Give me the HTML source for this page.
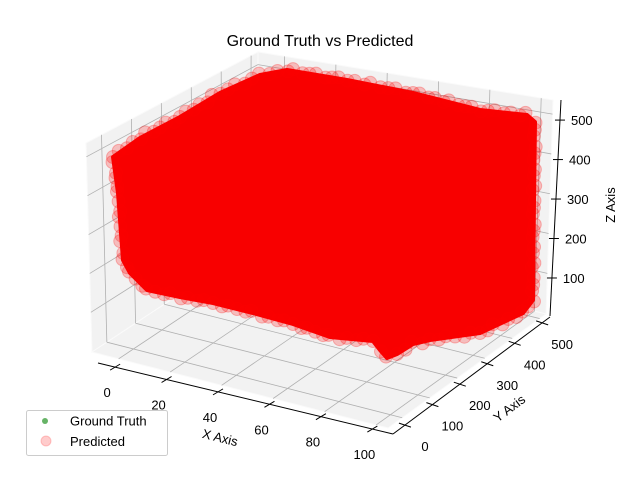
<!DOCTYPE html>
<html><head><meta charset="utf-8"><style>
html,body{margin:0;padding:0;background:#fff}
svg{display:block;font-family:"Liberation Sans","DejaVu Sans",sans-serif}
</style></head><body>
<svg id="chart" width="640" height="480" viewBox="0 0 640 480" xmlns="http://www.w3.org/2000/svg">
<rect width="640" height="480" fill="#fff"/>
<text x="320" y="46" font-size="16" text-anchor="middle" fill="#000">Ground Truth vs Predicted</text>
<g id="panes"></g>
<g id="grid"></g>
<g id="blob"></g>
<g id="axes"></g>
<text x="0" y="0" font-size="13" text-anchor="middle" transform="translate(219,442) rotate(14)">X Axis</text>
<text x="0" y="0" font-size="13" text-anchor="middle" transform="translate(512,412) rotate(-37)">Y Axis</text>
<text x="0" y="0" font-size="13" text-anchor="middle" transform="translate(615,205) rotate(-90)">Z Axis</text>
<g>
<rect x="26.5" y="410.5" width="141" height="45" rx="2" fill="#fff" fill-opacity="0.8" stroke="#ccc"/>
<circle cx="45" cy="421" r="3" fill="green" fill-opacity="0.6"/>
<text x="70" y="425.5" font-size="13">Ground Truth</text>
<circle cx="46" cy="441" r="5" fill="red" fill-opacity="0.2" stroke="red" stroke-opacity="0.2"/>
<text x="70" y="446" font-size="13">Predicted</text>
</g>
</svg>
<script>
const xTicks = [0, 20, 40, 60, 80, 100];
const yTicks = [0, 100, 200, 300, 400, 500];
const zTicks = [100, 200, 300, 400, 500];
const xMax = 100, yMax = 500, zMax = 500;

const NS = "http://www.w3.org/2000/svg";
function mk(tag, attrs, parent){const e=document.createElementNS(NS,tag);for(const k in attrs)e.setAttribute(k,attrs[k]);parent.appendChild(e);return e;}
const lerp=(a,b,t)=>[a[0]+(b[0]-a[0])*t,a[1]+(b[1]-a[1])*t];
const P00=[92,352],P10=[388,428],P11=[546,314],P01=[257,243];
const T00=[86,143],T01=[258,52],T11=[553,100];
const gx=v=>0.09+0.87*v/xMax, gy=v=>0.09+0.87*v/yMax, gz=v=>0.004+0.93*v/zMax;

const panes=document.getElementById('panes');
function face(pts,name){const p=mk('polygon',{points:pts.map(q=>q.join(',')).join(' '),fill:'#f2f2f2',stroke:'#fafafa','stroke-width':1},panes);

}
face([P00,P01,T01,T00],'left-pane');
face([P01,P11,T11,T01],'back-pane');
face([P00,P10,P11,P01],'floor-pane');

const grid=document.getElementById('grid');
function gl(a,b,name){const l=mk('line',{x1:a[0],y1:a[1],x2:b[0],y2:b[1],stroke:'#b0b0b0','stroke-width':0.8},grid);

}
xTicks.forEach(v=>{const t=gx(v);
 gl(lerp(P00,P10,t),lerp(P01,P11,t),'floor-grid-x');
 gl(lerp(P01,P11,t),lerp(T01,T11,t),'back-grid-x');});
yTicks.forEach(v=>{const t=gy(v);
 gl(lerp(P00,P01,t),lerp(P10,P11,t),'floor-grid-y');
 gl(lerp(P00,P01,t),lerp(T00,T01,t),'left-grid-y');});
zTicks.forEach(v=>{const t=gz(v);
 gl(lerp(P00,T00,t),lerp(P01,T01,t),'left-grid-z');
 gl(lerp(P01,T01,t),lerp(P11,T11,t),'back-grid-z');});

const blobOutline=[[113,157],[140,138],[180,117],[220,93],[260,75],[287,70],[347,80],[413,93],[480,110],[527,115],[535,122],[534,200],[533,300],[523,313],[480,333],[430,340],[413,344],[397,354],[387,358],[380,350],[373,341],[330,337],[293,324],[253,313],[213,303],[180,297],[147,290],[130,273],[123,260],[118,193]];
const blob=document.getElementById('blob');
const poly=mk('polygon',{points:blobOutline.map(q=>q.join(',')).join(' '),fill:'#f80000',stroke:'#f80000','stroke-width':4,'stroke-linejoin':'round'},blob);


const jit=[0,-2,1,-1,2,-3,1,0,-2,2];
let ci=0;
for(let i=0;i<blobOutline.length;i++){
 const a=blobOutline[i],b=blobOutline[(i+1)%blobOutline.length];
 const n=Math.max(1,Math.round(Math.hypot(b[0]-a[0],b[1]-a[1])/8));
 for(let k=0;k<n;k++){const p=lerp(a,b,k/n);const j=jit[ci++%jit.length];
  const c=mk('circle',{cx:p[0]+j*0.5,cy:p[1]+j*0.7,r:6.5,fill:'red','fill-opacity':0.22,stroke:'red','stroke-opacity':0.25},blob);
  
  }
}

const axes=document.getElementById('axes');
function axisLine(a,b,name){const l=mk('line',{x1:a[0],y1:a[1],x2:b[0],y2:b[1],stroke:'#000','stroke-width':1},axes);

}
const XA=[98,363],XB=[393,434],YA=[393,434],YB=[550,317],ZA=[550,316],ZB=[561,100];
axisLine(XA,XB,'x-axis-line');axisLine(YA,YB,'y-axis-line');axisLine(ZA,ZB,'z-axis-line');
function tick(p,d,name){const l=mk('line',{x1:p[0]-d[0],y1:p[1]-d[1],x2:p[0]+d[0],y2:p[1]+d[1],stroke:'#000','stroke-width':1},axes);

}
function label(p,txt,anchor,name){const t=mk('text',{x:p[0],y:p[1],'font-size':13,'text-anchor':anchor,fill:'#000'},axes);t.textContent=txt;

}
xTicks.forEach(v=>{const p=lerp(XA,XB,0.058+0.872*v/xMax);
 tick(p,[-5,3],'x-tick');label([p[0]-8,p[1]+30],String(v),'middle','x-tick-label');});
yTicks.forEach(v=>{const p=lerp(YA,YB,0.076+0.874*v/yMax);
 tick(p,[6,2],'y-tick');label([p[0]+20,p[1]+26],String(v),'middle','y-tick-label');});
zTicks.forEach(v=>{const p=lerp(ZA,ZB,0.176+(0.907-0.176)*(v-100)/400);
 tick(p,[5,0],'z-tick');label([p[0]+11,p[1]+5],String(v),'start','z-tick-label');});
</script>
</body></html>
